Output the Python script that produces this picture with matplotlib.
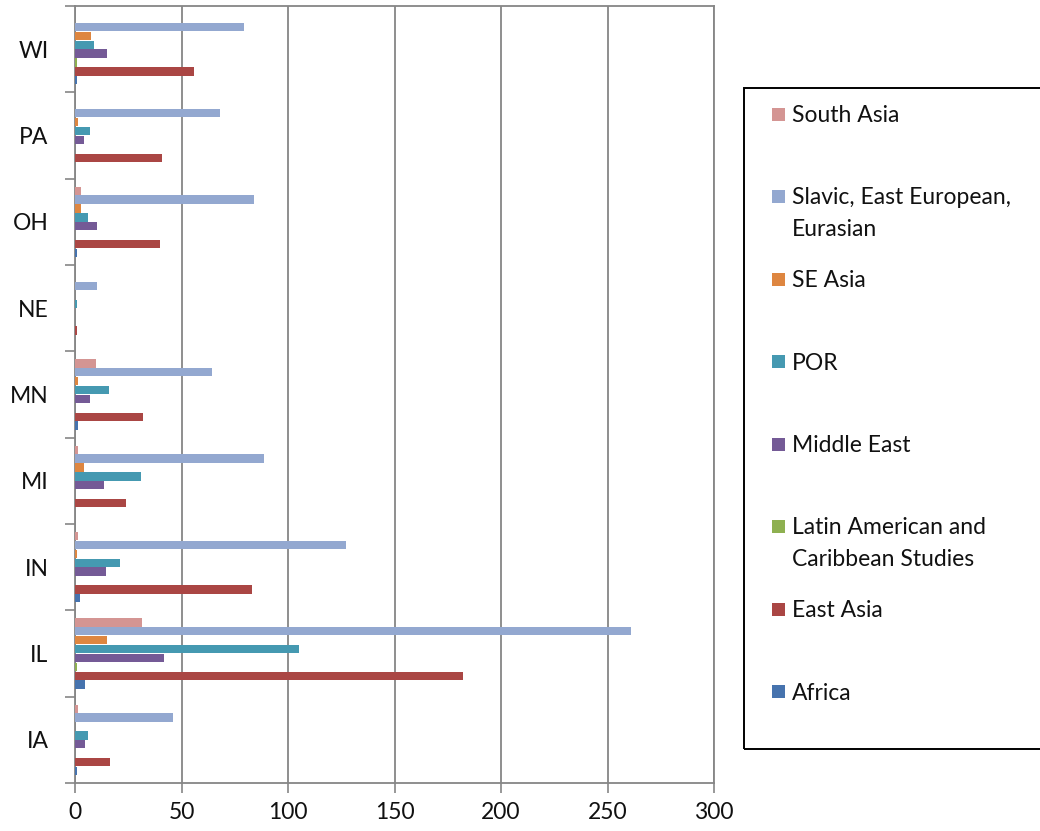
import matplotlib
matplotlib.use("Agg")
import matplotlib.pyplot as plt
from matplotlib.patches import Rectangle
import numpy as np

states = ["IA", "IL", "IN", "MI", "MN", "NE", "OH", "PA", "WI"]
series_names = ["Africa", "East Asia", "Latin American and Caribbean Studies",
                "Middle East", "POR", "SE Asia", "Slavic, East European, Eurasian",
                "South Asia"]
africa      = [1, 4.5, 2.5, 0, 1.5, 0, 1, 0, 1]
east_asia   = [16.5, 182, 83, 24, 32, 1, 40, 41, 56]
latin_am    = [0, 1, 0, 0, 0, 0, 0, 0, 1]
middle_east = [4.5, 42, 14.5, 13.5, 7, 0, 10.5, 4, 15]
por         = [6, 105, 21, 31, 16, 1, 6, 7, 9]
se_asia     = [0, 15, 1, 4, 1.5, 0, 3, 1.5, 7.5]
slavic      = [46, 261, 127, 88.5, 64.5, 10.5, 84, 68, 79.5]
south_asia  = [1.5, 31.5, 1.5, 1.5, 10, 0, 3, 0, 0]
x_ticks = [0, 50, 100, 150, 200, 250, 300]

series = [africa, east_asia, latin_am, middle_east, por, se_asia, slavic, south_asia]
colors = ["#4673AE", "#AA4644", "#8EB050", "#745A96", "#4599B1", "#DE8640",
          "#93A8D0", "#D49593"]
legend_lines = [["Africa"], ["East Asia"], ["Latin American and", "Caribbean Studies"],
                ["Middle East"], ["POR"], ["SE Asia"],
                ["Slavic, East European,", "Eurasian"], ["South Asia"]]

W, H = 1040, 831
fig = plt.figure(figsize=(W / 100, H / 100), dpi=100)
fig.patch.set_facecolor("white")
FONT = "Lato"
plt.rcParams["font.family"] = [FONT, "DejaVu Sans"]

ax = fig.add_axes([75 / W, (H - 783) / H, 639 / W, 777 / H])
grey = "#868686"
txt = "#111111"

ypos = np.arange(len(states))
bh = 0.103
for k, (vals, col) in enumerate(zip(series, colors)):
    ax.barh(ypos + (k - 3.5) * bh, vals, height=bh * 0.94, color=col,
            linewidth=0, zorder=3)

ax.set_xlim(0, 300)
ax.set_ylim(-0.5, len(states) - 0.5)
ax.set_xticks(x_ticks)
ax.set_xticklabels([str(t) for t in x_ticks], fontsize=16.5, color=txt)
ax.set_yticks(ypos)
ax.set_yticklabels(states, fontsize=16.5, color=txt)
ax.set_yticks(np.arange(-0.5, len(states)), minor=True)
ax.tick_params(axis="y", which="major", length=0, pad=19)
ax.tick_params(axis="y", which="minor", length=7, width=1.2, color=grey)
ax.tick_params(axis="x", which="major", length=7, width=1.2, color=grey, pad=7)
ax.xaxis.grid(True, color=grey, linewidth=1.3, zorder=0)
ax.set_axisbelow(True)
for s in ["left", "bottom", "top", "right"]:
    ax.spines[s].set_color(grey)
    ax.spines[s].set_linewidth(1.3)

# legend (manual, Excel-like even spacing)
box_left, box_top, box_bot = 743.5, 88, 749
fig.patches.append(Rectangle((box_left / W, (H - box_bot) / H),
                             (W + 10 - box_left) / W, (box_bot - box_top) / H,
                             transform=fig.transFigure, fill=False,
                             edgecolor="black", linewidth=1.4, clip_on=False))
row0, step = 114, 82.5
for i, k in enumerate(range(7, -1, -1)):
    cy = row0 + step * i
    fig.patches.append(Rectangle((772 / W, (H - cy - 6.5) / H), 13 / W, 13 / H,
                                 transform=fig.transFigure, facecolor=colors[k],
                                 edgecolor="none"))
    for j, line in enumerate(legend_lines[k]):
        fig.text(792 / W, (H - (cy + 8 + 32 * j)) / H, line, fontsize=16.5,
                 ha="left", va="baseline", color=txt)

fig.savefig("out.png", dpi=100)
